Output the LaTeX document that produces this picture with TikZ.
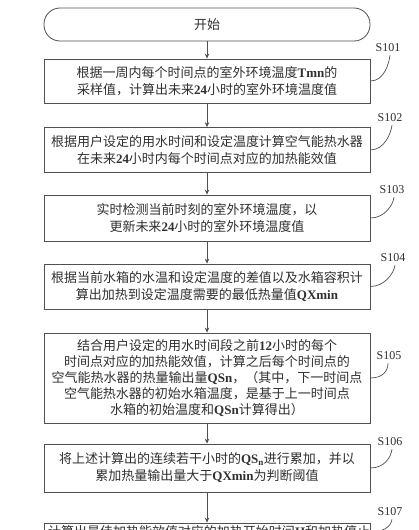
\documentclass[tikz,border=0pt]{standalone}
\usepackage{fontspec}
\setmainfont{Liberation Serif}
\newfontfamily\cjk{Noto Sans CJK SC}
\newfontfamily\latf{Liberation Serif}
\newcommand\lt[1]{{\latf\bfseries #1}}
\usetikzlibrary{arrows.meta}
\definecolor{linec}{HTML}{505050}
\definecolor{txtc}{HTML}{303030}
\tikzset{
  stepbox/.style={draw=linec, line width=0.8pt, minimum width=326pt, text width=318pt,
    align=center, inner sep=0pt, text=txtc,
    font=\cjk\fontsize{13}{17}\selectfont},
  startbox/.style={stepbox, rounded corners=16pt},
  flow/.style={draw=linec, line width=0.8pt, -{Stealth[length=5pt,width=4.5pt]}},
  steplabel/.style={text=txtc, font=\latf\fontsize{12}{13}\selectfont, inner sep=1pt},
  leader/.style={draw=linec, line width=0.7pt},
}
\begin{document}
\begin{tikzpicture}[x=1pt,y=-1pt]
\useasboundingbox (0,0) rectangle (418,530);
\clip (0,0) rectangle (418,530);
\fill[white] (0,0) rectangle (418,530);

\node[startbox, minimum height=33pt] (s) at (207,24.5) {开始};
\node[stepbox, minimum height=44pt] (b1) at (207,81)
  {根据一周内每个时间点的室外环境温度\lt{Tmn}的\\采样值，计算出未来\lt{24}小时的室外环境温度值};
\node[stepbox, minimum height=45pt] (b2) at (207,150)
  {根据用户设定的用水时间和设定温度计算空气能热水器\\在未来\lt{24}小时内每个时间点对应的加热能效值};
\node[stepbox, minimum height=46pt] (b3) at (207,218)
  {实时检测当前时刻的室外环境温度，以\\更新未来\lt{24}小时的室外环境温度值};
\node[stepbox, minimum height=45pt] (b4) at (207,286.5)
  {根据当前水箱的水温和设定温度的差值以及水箱容积计\\算出加热到设定温度需要的最低热量值\lt{QXmin}};
\node[stepbox, minimum height=90pt, font=\cjk\fontsize{13}{16}\selectfont] (b5) at (207,378)
  {结合用户设定的用水时间段之前\lt{12}小时的每个\\时间点对应的加热能效值，计算之后每个时间点的\\空气能热水器的热量输出量\lt{QSn}，（其中，下一时间点\\空气能热水器的初始水箱温度，是基于上一时间点\\水箱的初始温度和\lt{QSn}计算得出）};
\node[stepbox, minimum height=48pt] (b6) at (207,468)
  {将上述计算出的连续若干小时的\lt{QS\textsubscript{n}}进行累加，并以\\累加热量输出量大于\lt{QXmin}为判断阈值};
\node[stepbox, minimum height=18pt] (b7) at (207,532)
  {计算出最佳加热能效值对应的加热开始时间\lt{H}和加热停止};

\draw[flow] (s) -- (b1);
\draw[flow] (b1) -- (b2);
\draw[flow] (b2) -- (b3);
\draw[flow] (b3) -- (b4);
\draw[flow] (b4) -- (b5);
\draw[flow] (b5) -- (b6);
\draw[flow] (b6) -- (b7);

\node[steplabel] (l1) at (388,48) {S101};
\node[steplabel] (l2) at (390,118) {S102};
\node[steplabel] (l3) at (392,190) {S103};
\node[steplabel] (l4) at (393,258) {S104};
\node[steplabel] (l5) at (389,356) {S105};
\node[steplabel] (l6) at (390,442) {S106};
\node[steplabel] (l7) at (390,512) {S107};

\foreach \b/\l in {b1/l1,b2/l2,b3/l3,b4/l4,b6/l6}{
  \draw[leader] (\b.east) .. controls +(14,0) and +(-1,8) .. ([xshift=2pt,yshift=-2pt]\l.south);
}
\draw[leader] (b5.east) .. controls +(12,0) and +(0,8) .. ([xshift=-1pt,yshift=-2pt]l5.south);
\draw[leader] (b7.east) .. controls +(12,0) and +(-1,8) .. ([xshift=2pt,yshift=-2pt]l7.south);
\end{tikzpicture}
\end{document}
